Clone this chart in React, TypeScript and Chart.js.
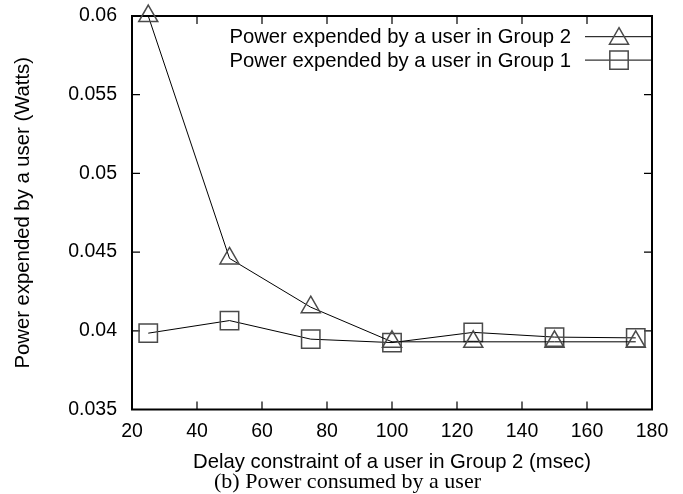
import React, { useEffect, useRef } from "react";
import { Chart, registerables } from "chart.js";

Chart.register(...registerables);

const delays = [25, 50, 75, 100, 125, 150, 175];
const group2Power = [0.06, 0.0446, 0.0415, 0.0393, 0.0393, 0.0393, 0.0393];
const group1Power = [0.03985, 0.04065, 0.03947, 0.03925, 0.0399, 0.0396, 0.03955];
const xTickValues = [20, 40, 60, 80, 100, 120, 140, 160, 180];
const yTickValues = [0.035, 0.04, 0.045, 0.05, 0.055, 0.06];
const seriesLabels = [
  "Power expended by a user in Group 2",
  "Power expended by a user in Group 1",
];
const seriesMarkers = ["triangle", "rect"];
const xTitle = "Delay constraint of a user in Group 2 (msec)";
const yTitle = "Power expended by a user (Watts)";
const caption = "(b) Power consumed by a user";

const FONT = "'Liberation Sans', Arial, Helvetica, sans-serif";
const TICK_SIZE = 19.5;
const TEXT_SIZE = 20.3;
const MARKER_STROKE = "#4a4a4a";

function drawMarker(ctx: CanvasRenderingContext2D, style: string, x: number, y: number) {
  ctx.save();
  ctx.strokeStyle = MARKER_STROKE;
  ctx.lineWidth = 1.5;
  ctx.beginPath();
  if (style === "triangle") {
    const r = 11;
    for (let i = 0; i < 3; i++) {
      const a = (i * 2 * Math.PI) / 3;
      const px = x + Math.sin(a) * r;
      const py = y - Math.cos(a) * r;
      if (i === 0) ctx.moveTo(px, py);
      else ctx.lineTo(px, py);
    }
    ctx.closePath();
  } else {
    const s = 13 * Math.SQRT1_2;
    ctx.rect(x - s, y - s, 2 * s, 2 * s);
  }
  ctx.stroke();
  ctx.restore();
}

const framePlugin = {
  id: "gnuplotFrame",
  beforeDatasetsDraw(chart: any) {
    const { ctx, chartArea } = chart;
    const { left, right, top, bottom } = chartArea;
    const xs = chart.scales.x;
    const ys = chart.scales.y;
    const tick = 8;
    ctx.save();
    ctx.strokeStyle = "#000";
    ctx.lineWidth = 1.2;
    ctx.beginPath();
    xTickValues.forEach((v) => {
      const px = xs.getPixelForValue(v);
      if (Math.abs(px - left) < 1 || Math.abs(px - right) < 1) return;
      ctx.moveTo(px, bottom);
      ctx.lineTo(px, bottom - tick);
      ctx.moveTo(px, top);
      ctx.lineTo(px, top + tick);
    });
    yTickValues.forEach((v) => {
      const py = ys.getPixelForValue(v);
      if (Math.abs(py - top) < 1 || Math.abs(py - bottom) < 1) return;
      ctx.moveTo(left, py);
      ctx.lineTo(left + tick, py);
      ctx.moveTo(right, py);
      ctx.lineTo(right - tick, py);
    });
    ctx.stroke();
    ctx.lineWidth = 2;
    ctx.strokeRect(left, top, right - left, bottom - top);
    ctx.restore();
  },
};

const legendPlugin = {
  id: "gnuplotLegend",
  afterDraw(chart: any) {
    const { ctx, chartArea } = chart;
    const { right, top } = chartArea;
    ctx.save();
    ctx.font = `${TEXT_SIZE}px ${FONT}`;
    ctx.fillStyle = "#000";
    ctx.textAlign = "right";
    ctx.textBaseline = "middle";
    chart.data.datasets.forEach((ds: any, i: number) => {
      const y = top + 20.7 + i * 23.4;
      ctx.fillText(ds.label, right - 81, y + 1);
      ctx.strokeStyle = "#000";
      ctx.lineWidth = 1;
      ctx.beginPath();
      ctx.moveTo(right - 67, y);
      ctx.lineTo(right, y);
      ctx.stroke();
      drawMarker(ctx, ds.pointStyle, right - 33, y + (ds.pointStyle === "triangle" ? 2 : 0));
    });
    ctx.restore();
  },
};

export default function App() {
  const canvasRef = useRef<HTMLCanvasElement | null>(null);

  useEffect(() => {
    const canvas = canvasRef.current;
    if (!canvas) return;
    const datasets = [group2Power, group1Power].map((vals, i) => ({
      label: seriesLabels[i],
      data: delays.map((d, j) => ({ x: d, y: vals[j] })),
      borderColor: "#000",
      borderWidth: 1,
      pointStyle: seriesMarkers[i],
      pointRadius: i === 0 ? 11 : 13,
      pointBorderColor: MARKER_STROKE,
      pointBorderWidth: 1.5,
      pointBackgroundColor: "rgba(0,0,0,0)",
      fill: false,
      tension: 0,
      clip: false as any,
    }));

    const chart = new Chart(canvas, {
      type: "line",
      data: { datasets },
      plugins: [framePlugin, legendPlugin],
      options: {
        responsive: false,
        animation: false,
        devicePixelRatio: 1,
        layout: { padding: { left: 0, right: 31, top: 16, bottom: 0 } },
        plugins: { legend: { display: false }, tooltip: { enabled: false } },
        scales: {
          x: {
            type: "linear",
            min: 20,
            max: 180,
            afterBuildTicks: (scale: any) => {
              scale.ticks = xTickValues.map((v) => ({ value: v }));
            },
            afterFit: (scale: any) => {
              scale.height = 84.5;
              scale.paddingLeft = 0;
              scale.paddingRight = 0;
            },
            grid: { display: false, drawTicks: false },
            border: { display: false },
            ticks: {
              color: "#000",
              padding: 10.5,
              maxRotation: 0,
              autoSkip: false,
              font: { family: FONT, size: TICK_SIZE },
              callback: (v: any) => String(v),
            },
            title: {
              display: true,
              text: xTitle,
              color: "#000",
              font: { family: FONT, size: TEXT_SIZE },
              padding: { top: 0, bottom: 19 },
            },
          },
          y: {
            type: "linear",
            min: 0.035,
            max: 0.06,
            afterBuildTicks: (scale: any) => {
              scale.ticks = yTickValues.map((v) => ({ value: v }));
            },
            afterFit: (scale: any) => {
              scale.width = 132;
              scale.paddingTop = 0;
              scale.paddingBottom = 0;
            },
            grid: { display: false, drawTicks: false },
            border: { display: false },
            ticks: {
              color: "#000",
              padding: 15,
              autoSkip: false,
              font: { family: FONT, size: TICK_SIZE },
              callback: (v: any) => String(Number(Number(v).toFixed(3))),
            },
            title: {
              display: true,
              text: yTitle,
              color: "#000",
              font: { family: FONT, size: TEXT_SIZE },
              padding: { top: 11, bottom: 0 },
            },
          },
        },
      },
    });
    return () => chart.destroy();
  }, []);

  return (
    <div style={{ position: "absolute", left: 0, top: 0, width: 683, height: 494, background: "#fff", overflow: "hidden" }}>
      <canvas ref={canvasRef} width={683} height={494} style={{ display: "block" }} />
      <div
        style={{
          position: "absolute",
          left: 0,
          width: 695,
          top: 469,
          textAlign: "center",
          fontFamily: "'Liberation Serif', 'Times New Roman', serif",
          fontSize: 22,
          lineHeight: "24px",
          color: "#000",
          whiteSpace: "nowrap",
        }}
      >
        {caption}
      </div>
    </div>
  );
}
